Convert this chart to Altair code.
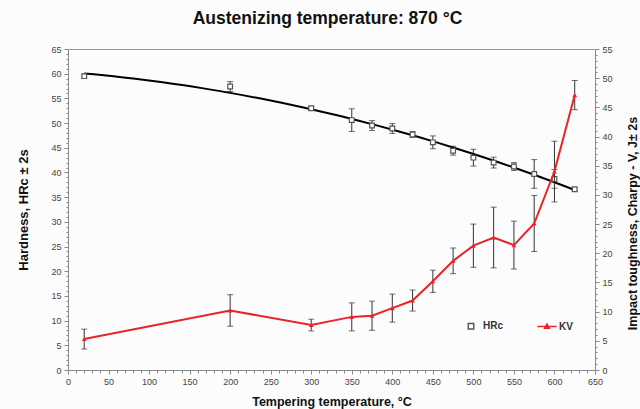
import altair as alt
import pandas as pd

temps = [20, 200, 300, 350, 375, 400, 425, 450, 475, 500, 525, 550, 575, 600, 625]
hrc = [59.5, 57.4, 53.0, 50.6, 49.5, 48.9, 47.7, 46.1, 44.4, 43.0, 42.0, 41.2, 39.7, 38.7, 36.6]
hrc_err = [0.4, 1.0, 0.4, 2.3, 1.0, 1.0, 0.6, 1.3, 0.9, 1.7, 1.1, 0.8, 2.9, 1.9, 0.3]
kv = [5.3, 10.2, 7.7, 9.1, 9.3, 10.6, 11.9, 15.2, 18.7, 21.3, 22.7, 21.4, 25.1, 34.0, 47.1]
kv_err = [1.7, 2.7, 1.0, 2.4, 2.5, 2.4, 1.8, 1.9, 2.2, 3.7, 5.2, 4.1, 4.8, 5.2, 2.5]

series_names = ["HRc", "KV"]

FONT = "Liberation Sans"
RED = "#e8232a"
GRAY = "#555555"
KV_LEGEND_SHAPE = "M-3.5,0L3.5,0M0,-0.9L0.9,0.7L-0.9,0.7Z"

df_h = pd.DataFrame({"t": temps, "v": hrc, "e": hrc_err})
df_h["lo"] = df_h["v"] - df_h["e"]
df_h["hi"] = df_h["v"] + df_h["e"]
df_h["series"] = "HRc"

df_k = pd.DataFrame({"t": temps, "v": kv, "e": kv_err})
df_k["lo"] = df_k["v"] - df_k["e"]
df_k["hi"] = df_k["v"] + df_k["e"]
df_k["series"] = "KV"

x_scale = alt.Scale(domain=[0, 650], nice=False, zero=False)
x_axis = alt.Axis(
    values=list(range(0, 651, 10)),
    labelExpr="datum.value % 50 === 0 ? datum.label : ''",
    tickSize={"condition": {"test": "datum.value % 50 === 0", "value": 4}, "value": 3},
    title="Tempering temperature, °C",
    titleFont=FONT, titleFontSize=12.5, titleFontWeight="bold", titleColor="#111",
    titlePadding=9,
    labelFont=FONT, labelFontSize=9, labelColor="#444", labelPadding=3,
    domainColor="#888", tickColor="#888", grid=False, labelFlush=False,
)
X = alt.X("t:Q", scale=x_scale, axis=x_axis)

yl_scale = alt.Scale(domain=[0, 65], nice=False, zero=False)
yl_axis = alt.Axis(
    values=list(range(0, 66)),
    labelExpr="datum.value % 5 === 0 ? datum.label : ''",
    tickSize={"condition": {"test": "datum.value % 5 === 0", "value": 4}, "value": 2},
    title="Hardness, HRc ± 2s", orient="left",
    titleFont=FONT, titleFontSize=13, titleFontWeight="bold", titleColor="#111",
    titlePadding=20,
    labelFont=FONT, labelFontSize=9, labelColor="#444", labelPadding=3,
    domainColor="#888", tickColor="#888", grid=False,
)
yr_scale = alt.Scale(domain=[0, 55], nice=False, zero=False)
yr_axis = alt.Axis(
    values=list(range(0, 56)),
    labelExpr="datum.value % 5 === 0 ? datum.label : ''",
    tickSize={"condition": {"test": "datum.value % 5 === 0", "value": 4}, "value": 2},
    title="Impact toughness, Charpy - V, J± 2s", orient="right",
    titleFont=FONT, titleFontSize=12.5, titleFontWeight="bold", titleColor="#111",
    titleAngle=270, titleBaseline="top", titlePadding=14, titleY=174,
    labelFont=FONT, labelFontSize=9, labelColor="#444", labelPadding=3,
    domainColor="#888", tickColor="#888", grid=False,
)

leg = alt.Legend(
    title=None, orient="none", legendX=398, legendY=272, direction="horizontal",
    labelFont=FONT, labelFontSize=10, labelFontWeight="bold", labelColor="#333",
    columnPadding=30, symbolSize=30, symbolStrokeWidth=1.4, labelOffset=7,
)
stroke_enc = alt.Stroke("series:N", scale=alt.Scale(domain=series_names, range=[GRAY, RED]), legend=leg)
fill_enc = alt.Fill("series:N", scale=alt.Scale(domain=series_names, range=["#ffffff", RED]), legend=leg)
shape_enc = alt.Shape("series:N", scale=alt.Scale(domain=series_names, range=["square", KV_LEGEND_SHAPE]), legend=leg)

# Left (HRc) group
YL = alt.Y("v:Q", scale=yl_scale, axis=yl_axis)
base_h = alt.Chart(df_h)
h_rule = base_h.mark_rule(color="#333", strokeWidth=1).encode(
    x=X, y=alt.Y("lo:Q", scale=yl_scale, axis=yl_axis), y2="hi:Q")
h_tlo = base_h.mark_tick(color="#333", size=6, thickness=1, orient="horizontal").encode(
    x=X, y=alt.Y("lo:Q", scale=yl_scale, axis=yl_axis))
h_thi = base_h.mark_tick(color="#333", size=6, thickness=1, orient="horizontal").encode(
    x=X, y=alt.Y("hi:Q", scale=yl_scale, axis=yl_axis))
h_fit = base_h.transform_regression("t", "v", method="poly", order=2).mark_line(
    color="#000", strokeWidth=2).encode(x=X, y=YL)
h_pts = base_h.mark_point(size=22, strokeWidth=1.2, opacity=1).encode(
    x=X, y=YL, stroke=stroke_enc, fill=fill_enc, shape=shape_enc)
left = alt.layer(h_rule, h_tlo, h_thi, h_fit, h_pts)

# Right (KV) group
YR = alt.Y("v:Q", scale=yr_scale, axis=yr_axis)
base_k = alt.Chart(df_k)
k_rule = base_k.mark_rule(color="#333", strokeWidth=1).encode(
    x=X, y=alt.Y("lo:Q", scale=yr_scale, axis=yr_axis), y2="hi:Q")
k_tlo = base_k.mark_tick(color="#333", size=6, thickness=1, orient="horizontal").encode(
    x=X, y=alt.Y("lo:Q", scale=yr_scale, axis=yr_axis))
k_thi = base_k.mark_tick(color="#333", size=6, thickness=1, orient="horizontal").encode(
    x=X, y=alt.Y("hi:Q", scale=yr_scale, axis=yr_axis))
k_line = base_k.mark_line(color=RED, strokeWidth=2).encode(x=X, y=YR)
k_pts = base_k.mark_point(size=22, strokeWidth=1, opacity=1, shape="triangle-up",
                          color=RED, filled=True).encode(x=X, y=YR)
right = alt.layer(k_rule, k_tlo, k_thi, k_line, k_pts)

chart = alt.layer(left, right).resolve_scale(y="independent").properties(
    width=527, height=321,
    autosize=alt.AutoSizeParams(type="none"),
    padding={"left": 68, "top": 49, "right": 45, "bottom": 39},
    title=alt.TitleParams(
        "Austenizing temperature: 870 °C", font=FONT, fontSize=17.5, fontWeight="bold",
        color="#111", anchor="middle", offset=18, dx=-4,
    ),
    background="#fcfcfc",
).configure_view(stroke="#999", strokeWidth=1)

chart.save("out.html", embed_options={"renderer": "svg", "actions": False})
